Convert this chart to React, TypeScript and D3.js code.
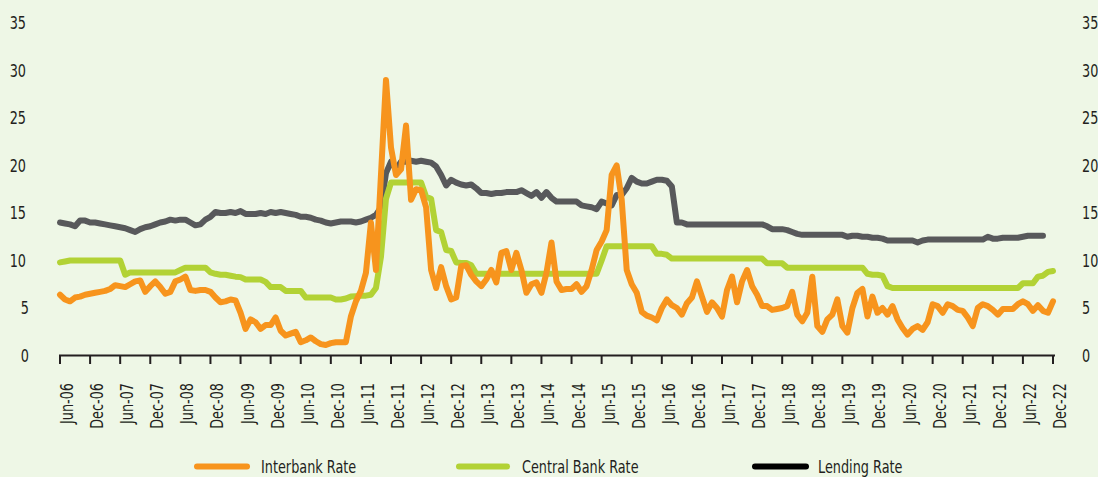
import React from 'react';
import * as d3 from 'd3';

// Month index 0 = Jun-06, 198 = Dec-22
const tickLabels = [
  'Jun-06', 'Dec-06', 'Jun-07', 'Dec-07', 'Jun-08', 'Dec-08', 'Jun-09', 'Dec-09',
  'Jun-10', 'Dec-10', 'Jun-11', 'Dec-11', 'Jun-12', 'Dec-12', 'Jun-13', 'Dec-13',
  'Jun-14', 'Dec-14', 'Jun-15', 'Dec-15', 'Jun-16', 'Dec-16', 'Jun-17', 'Dec-17',
  'Jun-18', 'Dec-18', 'Jun-19', 'Dec-19', 'Jun-20', 'Dec-20', 'Jun-21', 'Dec-21',
  'Jun-22', 'Dec-22',
];
const yTicks = [0, 5, 10, 15, 20, 25, 30, 35];

const interbankRate = [
  6.4, 5.9, 5.7, 6.1, 6.2, 6.4, 6.5, 6.6, 6.7, 6.8, 7.0, 7.4,
  7.3, 7.2, 7.5, 7.8, 7.9, 6.7, 7.3, 7.8, 7.2, 6.5, 6.7, 7.8,
  8.0, 8.3, 6.9, 6.8, 6.9, 6.9, 6.7, 6.1, 5.6, 5.7, 5.9, 5.8,
  4.5, 2.8, 3.8, 3.5, 2.8, 3.2, 3.2, 4.0, 2.6, 2.1, 2.3, 2.5,
  1.4, 1.6, 1.9, 1.5, 1.2, 1.1, 1.3, 1.4, 1.4, 1.4, 4.1, 5.7,
  6.8, 8.7, 14.0, 9.0, 19.0, 29.0, 21.9, 19.0, 19.6, 24.2, 16.4, 17.5,
  17.4, 15.6, 9.0, 7.1, 9.3, 7.3, 5.9, 6.1, 9.4, 9.5, 8.5, 7.8,
  7.3, 8.0, 9.0, 7.7, 10.8, 11.0, 9.0, 10.8, 9.0, 6.6, 7.5, 7.7,
  6.6, 8.7, 11.9, 7.8, 6.9, 7.0, 7.0, 7.5, 6.7, 7.3, 9.0, 11.1,
  12.0, 13.2, 19.0, 20.0, 16.4, 9.0, 7.5, 6.6, 4.6, 4.2, 4.0, 3.7,
  5.0, 5.9, 5.3, 5.0, 4.3, 5.5, 6.1, 7.8, 6.2, 4.6, 5.6, 5.0,
  4.1, 6.9, 8.3, 5.6, 7.8, 9.0, 7.3, 6.4, 5.2, 5.2, 4.8, 4.9,
  5.0, 5.2, 6.7, 4.3, 3.6, 4.5, 8.3, 3.1, 2.5, 3.8, 4.3, 5.9,
  3.1, 2.4, 5.0, 6.6, 7.0, 4.1, 6.2, 4.5, 5.0, 4.3, 5.2, 3.8,
  2.9, 2.2, 2.8, 3.1, 2.7, 3.5, 5.4, 5.2, 4.5, 5.4, 5.2, 4.8,
  4.7, 4.0, 3.1, 5.0, 5.4, 5.2, 4.8, 4.3, 4.9, 4.9, 4.9, 5.4,
  5.7, 5.4, 4.7, 5.3, 4.7, 4.5, 5.7,
];

const centralBankRate = [
  9.8, 9.9, 10.0, 10.0, 10.0, 10.0, 10.0, 10.0, 10.0, 10.0, 10.0, 10.0,
  10.0, 8.5, 8.75, 8.75, 8.75, 8.75, 8.75, 8.75, 8.75, 8.75, 8.75, 8.75,
  9.0, 9.25, 9.25, 9.25, 9.25, 9.25, 8.75, 8.6, 8.5, 8.5, 8.4, 8.3,
  8.25, 8.0, 8.0, 8.0, 8.0, 7.75, 7.2, 7.2, 7.2, 6.8, 6.8, 6.8,
  6.8, 6.1, 6.1, 6.1, 6.1, 6.1, 6.1, 5.9, 5.9, 6.0, 6.2, 6.25,
  6.3, 6.3, 6.4, 7.1, 10.4, 16.5, 18.2, 18.2, 18.2, 18.2, 18.2, 18.2,
  18.2, 16.7, 16.5, 13.2, 13.0, 11.1, 11.0, 9.8, 9.75, 9.75, 9.5, 8.6,
  8.6, 8.6, 8.6, 8.6, 8.6, 8.6, 8.6, 8.6, 8.6, 8.6, 8.6, 8.6,
  8.6, 8.6, 8.6, 8.6, 8.6, 8.6, 8.6, 8.6, 8.6, 8.6, 8.6, 8.6,
  10.0, 11.5, 11.5, 11.5, 11.5, 11.5, 11.5, 11.5, 11.5, 11.5, 11.5, 10.7,
  10.7, 10.6, 10.2, 10.2, 10.2, 10.2, 10.2, 10.2, 10.2, 10.2, 10.2, 10.2,
  10.2, 10.2, 10.2, 10.2, 10.2, 10.2, 10.2, 10.2, 10.2, 9.7, 9.7, 9.7,
  9.7, 9.25, 9.25, 9.25, 9.25, 9.25, 9.25, 9.25, 9.25, 9.25, 9.25, 9.25,
  9.25, 9.25, 9.25, 9.25, 9.25, 8.6, 8.5, 8.5, 8.4, 7.3, 7.1, 7.1,
  7.1, 7.1, 7.1, 7.1, 7.1, 7.1, 7.1, 7.1, 7.1, 7.1, 7.1, 7.1,
  7.1, 7.1, 7.1, 7.1, 7.1, 7.1, 7.1, 7.1, 7.1, 7.1, 7.1, 7.1,
  7.6, 7.6, 7.6, 8.3, 8.4, 8.8, 8.9,
];

const lendingRate = [
  14.0, 13.9, 13.8, 13.6, 14.2, 14.2, 14.0, 14.0, 13.9, 13.8, 13.7, 13.6,
  13.5, 13.4, 13.2, 13.0, 13.3, 13.5, 13.6, 13.8, 14.0, 14.1, 14.3, 14.2,
  14.3, 14.3, 14.0, 13.7, 13.8, 14.3, 14.6, 15.1, 15.0, 15.0, 15.1, 15.0,
  15.2, 14.9, 14.9, 14.9, 15.0, 14.9, 15.1, 15.0, 15.1, 15.0, 14.9, 14.8,
  14.6, 14.6, 14.5, 14.3, 14.2, 14.0, 13.9, 14.0, 14.1, 14.1, 14.1, 14.0,
  14.1, 14.3, 14.5, 14.8, 15.6, 19.2, 20.4, 19.6, 20.4, 20.4, 20.5, 20.4,
  20.5, 20.4, 20.3, 19.9, 19.0, 17.9, 18.5, 18.2, 18.0, 17.9, 18.0, 17.6,
  17.1, 17.1, 17.0, 17.1, 17.1, 17.2, 17.2, 17.2, 17.4, 17.1, 16.8, 17.2,
  16.6, 17.2, 16.6, 16.2, 16.2, 16.2, 16.2, 16.2, 15.8, 15.7, 15.6, 15.4,
  16.2, 16.0, 15.8, 16.9, 16.9, 17.6, 18.7, 18.3, 18.1, 18.1, 18.3, 18.5,
  18.5, 18.4, 17.8, 14.0, 14.0, 13.8, 13.8, 13.8, 13.8, 13.8, 13.8, 13.8,
  13.8, 13.8, 13.8, 13.8, 13.8, 13.8, 13.8, 13.8, 13.8, 13.6, 13.3, 13.3,
  13.3, 13.2, 13.0, 12.8, 12.7, 12.7, 12.7, 12.7, 12.7, 12.7, 12.7, 12.7,
  12.7, 12.5, 12.6, 12.6, 12.5, 12.5, 12.4, 12.4, 12.3, 12.1, 12.1, 12.1,
  12.1, 12.1, 12.1, 11.9, 12.1, 12.2, 12.2, 12.2, 12.2, 12.2, 12.2, 12.2,
  12.2, 12.2, 12.2, 12.2, 12.2, 12.5, 12.3, 12.3, 12.4, 12.4, 12.4, 12.4,
  12.5, 12.6, 12.6, 12.6, 12.6,
];

const seriesNames = ['Interbank Rate', 'Central Bank Rate', 'Lending Rate'];

const FONT = "'Liberation Sans Narrow', 'DejaVu Sans Condensed', 'Arial Narrow', sans-serif";
const BG = '#EEF7E6';
const ORANGE = '#F7941D';
const GREEN = '#B2D235';
const GRAY = '#58595B';
const AXIS = '#231F20';
const SX = 0.84; // horizontal compression to mimic a condensed face

export default function App() {
  const W = 1098;
  const H = 477;
  const x = d3.scaleLinear().domain([0, 198]).range([60, 1053]);
  const y = d3.scaleLinear().domain([0, 35]).range([355.5, 23]);
  const line = d3
    .line<number>()
    .x((_, i) => x(i))
    .y((d) => y(d));

  const series = [
    { name: seriesNames[0], data: interbankRate, color: ORANGE, legend: ORANGE },
    { name: seriesNames[1], data: centralBankRate, color: GREEN, legend: GREEN },
    { name: seriesNames[2], data: lendingRate, color: GRAY, legend: '#000000' },
  ];
  const drawOrder = [series[2], series[1], series[0]];

  const legendPos = [
    { x1: 197, x2: 247, tx: 261 },
    { x1: 459, x2: 507, tx: 522 },
    { x1: 755, x2: 806, tx: 818 },
  ];

  return (
    <svg
      width={W}
      height={H}
      style={{ position: 'absolute', left: 0, top: 0, background: BG }}
      fontFamily={FONT}
    >
      <rect x={0} y={0} width={W} height={H} fill={BG} />
      {/* y labels left and right */}
      {yTicks.map((t) => (
        <g key={t}>
          <text
            transform={`translate(${t < 10 ? 29 : 26},${y(t)}) scale(${SX},1)`}
            dy="0.36em"
            fontSize={17}
            textAnchor="end"
            fill={AXIS}
          >
            {t}
          </text>
          <text
            transform={`translate(1082,${y(t)}) scale(${SX},1)`}
            dy="0.36em"
            fontSize={17}
            textAnchor="start"
            fill={AXIS}
          >
            {t}
          </text>
        </g>
      ))}
      {/* lines */}
      {drawOrder.map((s) => (
        <path
          key={s.name}
          d={line(s.data) || ''}
          fill="none"
          stroke={s.color}
          strokeWidth={6}
          strokeLinejoin="round"
          strokeLinecap="round"
        />
      ))}
      {/* x axis */}
      <line x1={59} x2={1055} y1={355.5} y2={355.5} stroke={AXIS} strokeWidth={2} />
      {tickLabels.map((lab, k) => {
        const xi = x(k * 6);
        return (
          <g key={lab}>
            <line x1={xi} x2={xi} y1={355} y2={364} stroke={AXIS} strokeWidth={2} />
            <text
              transform={`translate(${xi + 13},383) rotate(-90) scale(${SX},1)`}
              textAnchor="end"
              fontSize={17}
              fill={AXIS}
            >
              {lab}
            </text>
          </g>
        );
      })}
      {/* legend */}
      {series.map((s, i) => (
        <g key={s.name}>
          <line
            x1={legendPos[i].x1}
            x2={legendPos[i].x2}
            y1={466.5}
            y2={466.5}
            stroke={s.legend}
            strokeWidth={6}
            strokeLinecap="round"
          />
          <text
            transform={`translate(${legendPos[i].tx},472.5) scale(${SX},1)`}
            fontSize={17}
            fill={AXIS}
          >
            {s.name}
          </text>
        </g>
      ))}
    </svg>
  );
}
